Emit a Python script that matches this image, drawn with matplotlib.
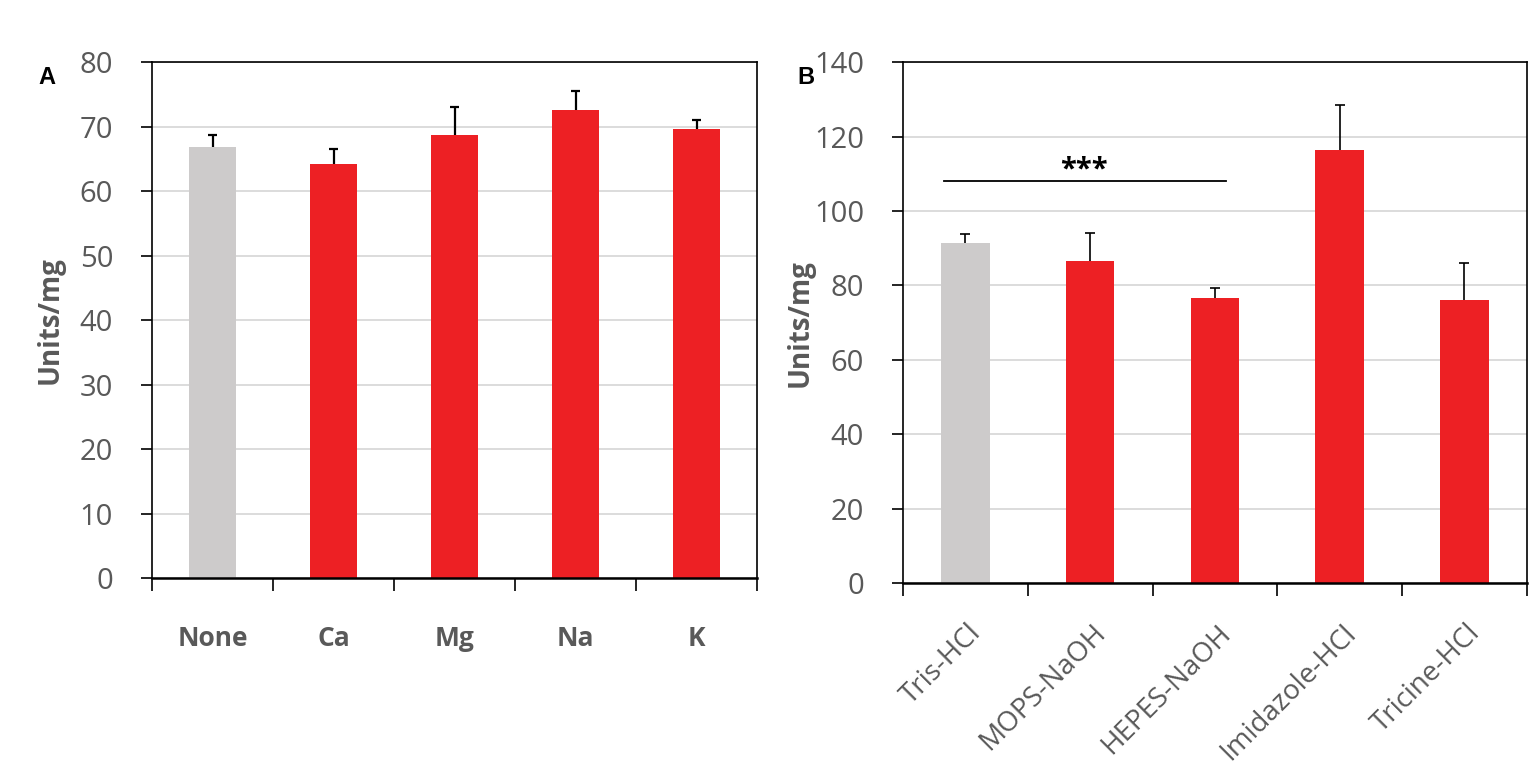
import numpy as np
import matplotlib.pyplot as plt
import matplotlib.transforms as mtransforms

# panel A: metal ions
ions = ['None', 'Ca', 'Mg', 'Na', 'K']
ion_vals = [66.8, 64.3, 68.7, 72.6, 69.6]
ion_err = [2.0, 2.2, 4.3, 3.0, 1.4]

# panel B: buffers
buffers = ['Tris-HCl', 'MOPS-NaOH', 'HEPES-NaOH', 'Imidazole-HCl', 'Tricine-HCl']
buf_vals = [91.5, 86.5, 76.5, 116.5, 76.0]
buf_err = [2.3, 7.7, 2.7, 12.0, 10.0]

GREY = '#cdcbcb'
RED = '#ed2024'
TXT = '#595959'

plt.rcParams['font.family'] = ['Open Sans', 'DejaVu Sans']

fig = plt.figure(figsize=(15.33, 7.79), dpi=100)
axA = fig.add_axes([0.0992, 0.258, 0.3946, 0.662])
axB = fig.add_axes([0.589, 0.2516, 0.407, 0.6685])


def draw(ax, names, vals, errs, ymax, step, lw):
    x = np.arange(len(names))
    cols = [GREY] + [RED] * (len(names) - 1)
    ax.bar(x, vals, width=0.39, color=cols, zorder=2)
    tops = np.array(vals) + np.array(errs)
    # upper error bars only, no cap at the bar top
    ax.vlines(x, vals, tops, color='black', linewidth=lw, zorder=3)
    ax.hlines(tops, x - 0.04, x + 0.04, color='black', linewidth=lw, zorder=3)
    ax.set_xlim(-0.5, len(names) - 0.5)
    ax.set_ylim(0, ymax)
    ax.set_yticks(np.arange(0, ymax + 1, step))
    ax.yaxis.grid(True, color='#d9d9d9', linewidth=1.3, zorder=0)
    ax.set_axisbelow(True)
    for s in ax.spines.values():
        s.set_color('black')
        s.set_linewidth(1.2)
    ax.spines['bottom'].set_linewidth(1.8)
    ax.tick_params(axis='y', direction='out', length=8, width=1.2,
                   labelsize=21, labelcolor=TXT, pad=20)
    ax.set_xticks(np.arange(-0.5, len(names)), minor=True)
    ax.tick_params(axis='x', which='minor', direction='out', length=9, width=1.2)
    ax.set_xticks(x)
    ax.set_ylabel('Units/mg', fontsize=20, fontweight='bold', color=TXT)
    return x


draw(axA, ions, ion_vals, ion_err, 80, 10, 1.6)
axA.set_xticklabels(ions, fontsize=19, fontweight='bold', color=TXT)
axA.tick_params(axis='x', which='major', length=0, pad=34)
axA.yaxis.set_label_coords(-0.144, 0.5)

draw(axB, buffers, buf_vals, buf_err, 140, 20, 1.2)
axB.set_xticklabels(buffers, fontsize=20, color=TXT, rotation=45,
                    ha='right', va='top', rotation_mode='anchor')
axB.tick_params(axis='x', which='major', length=0, pad=26)
shift = mtransforms.ScaledTranslation(0.02, 0, fig.dpi_scale_trans)
for lab in axB.get_xticklabels():
    lab.set_transform(lab.get_transform() + shift)
axB.yaxis.set_label_coords(-0.141, 0.5)

# significance bracket
axB.plot([-0.17, 2.09], [108, 108], color='black', linewidth=1.3, zorder=4)
axB.text(0.95, 109, '***', ha='center', va='baseline', fontsize=21,
         fontweight='bold', color='black')

fig.text(0.0248, 0.892, 'A', fontsize=17, fontweight='bold', family='Liberation Sans')
fig.text(0.520, 0.892, 'B', fontsize=17, fontweight='bold', family='Liberation Sans')

fig.savefig('out.png', dpi=100)
